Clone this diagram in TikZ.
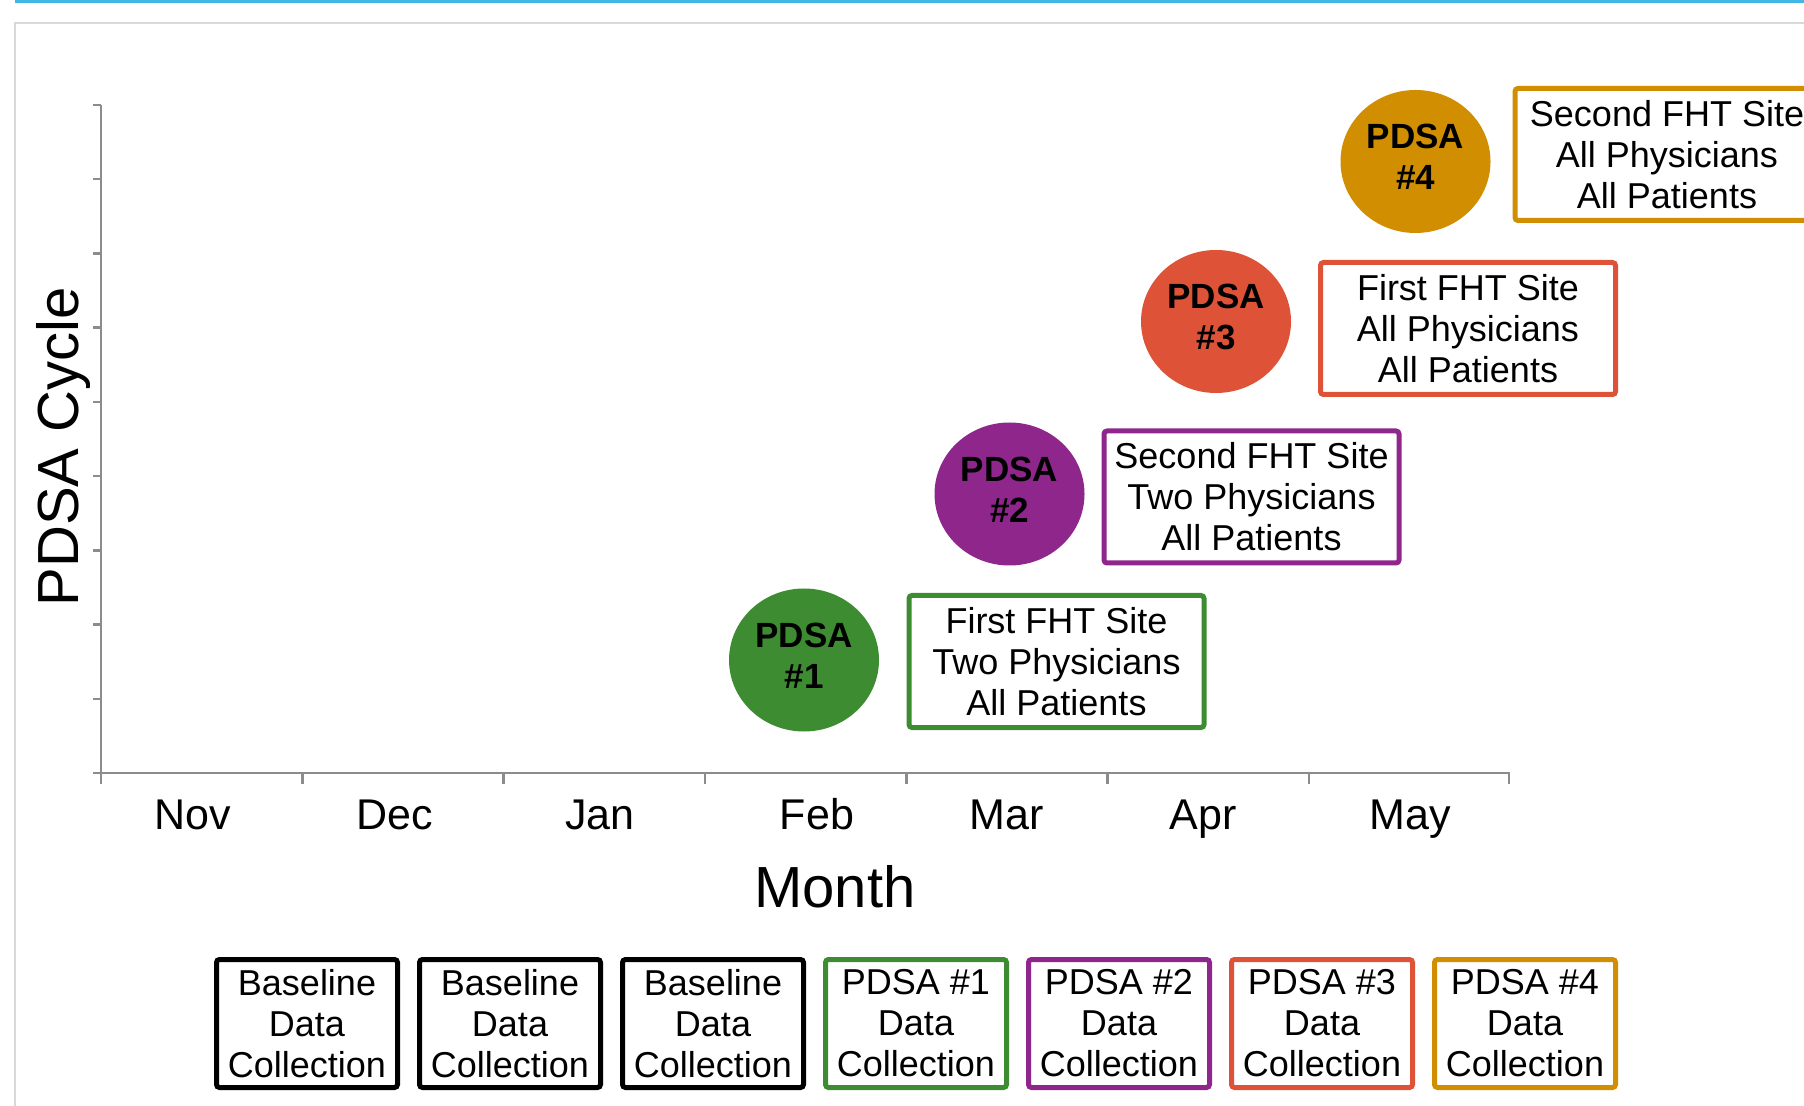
\documentclass[tikz,border=0pt]{standalone}
\usepackage{fontspec}
\setmainfont{Liberation Sans}
\usetikzlibrary{shapes.geometric,positioning}
\definecolor{pgreen}{RGB}{62,140,50}
\definecolor{ppurple}{RGB}{142,38,140}
\definecolor{pred}{RGB}{222,83,56}
\definecolor{pgold}{RGB}{208,142,0}
\definecolor{axisgray}{RGB}{140,140,140}
\definecolor{framegray}{RGB}{217,217,217}
\definecolor{topblue}{RGB}{64,183,228}
\tikzstyle{cyc}=[ellipse,minimum width=75pt,minimum height=71.5pt,inner sep=0pt,align=center,text depth=4.5pt,font=\fontsize{17.5}{20.5}\selectfont\bfseries]
\tikzstyle{note}=[rectangle,draw,line width=2.5pt,rounded corners=1.5pt,fill=white,align=center,minimum width=147.5pt,minimum height=66pt,inner sep=0pt,font=\fontsize{18}{20.5}\selectfont]
\tikzstyle{coll}=[note,minimum width=90.5pt,minimum height=64pt]
\tikzstyle{monthlab}=[anchor=base,font=\fontsize{21.5}{26}\selectfont]
\tikzstyle{title}=[anchor=base,font=\fontsize{29}{34}\selectfont]
\tikzstyle{axisline}=[axisgray,line width=1.2pt]

\begin{document}
\begin{tikzpicture}[x=0.5pt,y=-0.5pt]
\useasboundingbox (0,0) rectangle (1804,1106);
% frame and top rule
\fill[topblue] (15,0) rectangle (1804,3);
\draw[framegray,line width=1pt] (15,1130) -- (15,23) -- (1830,23);
% axes
\draw[axisline] (101,105) -- (101,784);
\draw[axisline] (93,773) -- (1509,773) -- (1509,784);
\foreach \i in {0,...,9} \draw[axisline] (93,{105+\i*74.22}) -- (101,{105+\i*74.22});
\foreach \i in {1,...,6} \draw[axisline] ({101+\i*201.33},773) -- ++(0,11);
\foreach \x/\m in {192.5/Nov,395/Dec,600/Jan,817/Feb,1007/Mar,1203/Apr,1410/May}
  \node[monthlab] (m\m) at (\x,829) {\m};
\node[title] (xlab) at (835,907) {Month};
\node[title,rotate=90] (ylab) at (78,447) {PDSA Cycle};
% cycles
\node[cyc,fill=pgreen] (c1) at (804,660) {PDSA\\\#1};
\node[cyc,fill=ppurple] (c2) at (1009.5,494) {PDSA\\\#2};
\node[cyc,fill=pred] (c3) at (1216,321.5) {PDSA\\\#3};
\node[cyc,fill=pgold] (c4) at (1415.5,161.5) {PDSA\\\#4};
\node[note,draw=pgreen] (s1) at (1056.5,661.5) {First FHT Site\\Two Physicians\\All Patients};
\node[note,draw=ppurple] (s2) at (1251.5,497) {Second FHT Site\\Two Physicians\\All Patients};
\node[note,draw=pred] (s3) at (1468,328.5) {First FHT Site\\All Physicians\\All Patients};
\node[note,draw=pgold,minimum width=152pt] (s4) at (1667,154.5) {Second FHT Site\\All Physicians\\All Patients};
% data collection
\node[coll,draw=black] (d1) at (307,1023.5) {Baseline\\Data\\Collection};
\node[coll,draw=black,right=8.5pt of d1] (d2) {Baseline\\Data\\Collection};
\node[coll,draw=black,right=8.5pt of d2] (d3) {Baseline\\Data\\Collection};
\node[coll,draw=pgreen,right=8.5pt of d3] (d4) {PDSA \#1\\Data\\Collection};
\node[coll,draw=ppurple,right=8.5pt of d4] (d5) {PDSA \#2\\Data\\Collection};
\node[coll,draw=pred,right=8.5pt of d5] (d6) {PDSA \#3\\Data\\Collection};
\node[coll,draw=pgold,right=8.5pt of d6] (d7) {PDSA \#4\\Data\\Collection};
\end{tikzpicture}
\end{document}
